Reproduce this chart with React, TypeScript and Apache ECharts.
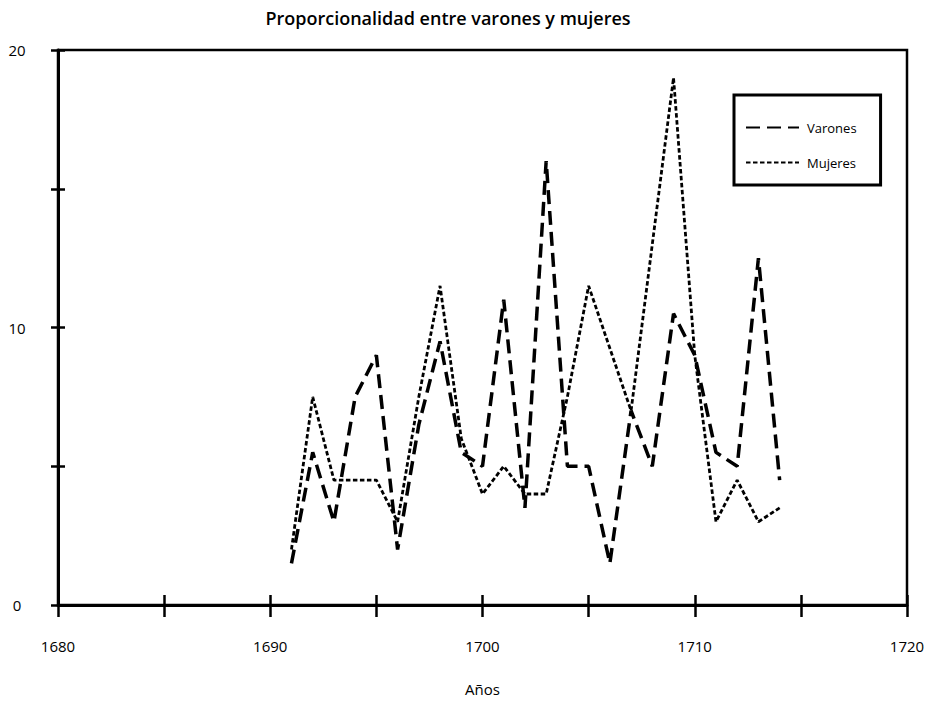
import React, { useEffect, useRef } from "react";
import * as echarts from "echarts";

const years = [1691, 1692, 1693, 1694, 1695, 1696, 1697, 1698, 1699, 1700, 1701, 1702, 1703, 1704, 1705, 1706, 1707, 1708, 1709, 1710, 1711, 1712, 1713, 1714];
const varones = [1.5, 5.5, 3, 7.5, 9, 2, 6.5, 9.5, 5.5, 5, 11, 3.5, 16, 5, 5, 1.5, 7, 5, 10.5, 9, 5.5, 5, 12.5, 4.5];
const mujeres = [2, 7.5, 4.5, 4.5, 4.5, 3, 7.5, 11.5, 6, 4, 5, 4, 4, 7.5, 11.5, 9.25, 7, 13, 19, 9, 3, 4.5, 3, 3.5];
const xLabels = ["1680", "1690", "1700", "1710", "1720"];
const yLabels = ["0", "10", "20"];

const FONT = "'Open Sans', 'Noto Sans', sans-serif";

export default function App() {
  const ref = useRef<HTMLDivElement>(null);
  useEffect(() => {
    if (!ref.current) return;
    const chart = echarts.init(ref.current, null, { renderer: "svg" });
    const grid = { left: 58, top: 50, width: 849, height: 555, show: true, borderColor: "#000", borderWidth: 2.5, backgroundColor: "transparent" };
    const xBase = { type: "value", min: 1680, max: 1720, interval: 5, gridIndex: 0, position: "bottom", splitLine: { show: false } };
    const yBase = { type: "value", min: 0, max: 20, interval: 5, gridIndex: 0, position: "left", splitLine: { show: false } };
    chart.setOption({
      animation: false,
      backgroundColor: "#fff",
      title: {
        text: "Proporcionalidad entre varones y mujeres",
        left: 448,
        top: 9,
        padding: 0,
        textAlign: "center",
        textStyle: { fontFamily: FONT, fontSize: 18, fontWeight: 600, color: "#000" },
      },
      grid,
      legend: {
        data: ["Varones", "Mujeres"],
        orient: "vertical",
        left: 734,
        top: 95,
        itemWidth: 53,
        itemHeight: 14,
        itemGap: 22,
        padding: [26, 24, 16, 11],
        borderColor: "#000",
        borderWidth: 3,
        backgroundColor: "#fff",
        selectedMode: false,
        itemStyle: { color: "rgba(0,0,0,0)", borderColor: "rgba(0,0,0,0)", borderWidth: 0, opacity: 0 },
        textStyle: { fontFamily: FONT, fontSize: 13, color: "#000", padding: [0, 0, 0, 3] },
      },
      xAxis: [
        {
          ...xBase,
          name: "Años",
          nameLocation: "middle",
          nameGap: 76,
          nameTextStyle: { fontFamily: FONT, fontSize: 15, color: "#000" },
          axisLine: { show: true, lineStyle: { color: "#000", width: 3 } },
          axisTick: { show: true, inside: false, length: 12, lineStyle: { color: "#000", width: 2.5 } },
          axisLabel: {
            margin: 33,
            fontFamily: FONT,
            fontSize: 15,
            color: "#000",
            formatter: (v: number) => (xLabels.includes(String(v)) ? String(v) : ""),
          },
        },
        {
          ...xBase,
          axisLine: { show: false },
          axisTick: { show: true, inside: true, length: 10, lineStyle: { color: "#000", width: 2.5 } },
          axisLabel: { show: false },
        },
      ],
      yAxis: [
        {
          ...yBase,
          axisLine: { show: true, lineStyle: { color: "#000", width: 3 } },
          axisTick: { show: true, inside: false, length: 7, lineStyle: { color: "#000", width: 2.5 } },
          axisLabel: {
            margin: 41,
            align: "center",
            fontFamily: FONT,
            fontSize: 15,
            color: "#000",
            formatter: (v: number) => (yLabels.includes(String(v)) ? String(v) : ""),
          },
        },
        {
          ...yBase,
          axisLine: { show: false },
          axisTick: { show: true, inside: true, length: 7, lineStyle: { color: "#000", width: 2.5 } },
          axisLabel: { show: false },
        },
      ],
      series: [
        {
          name: "Varones",
          type: "line",
          xAxisIndex: 0,
          yAxisIndex: 0,
          symbol: "circle",
          showSymbol: false,
          data: years.map((y, i) => [y, varones[i]]),
          lineStyle: { color: "#000", width: 3.5, type: [14, 7], cap: "butt" },
          itemStyle: { color: "#000" },
        },
        {
          name: "Mujeres",
          type: "line",
          xAxisIndex: 0,
          yAxisIndex: 0,
          symbol: "circle",
          showSymbol: false,
          data: years.map((y, i) => [y, mujeres[i]]),
          lineStyle: { color: "#000", width: 2.8, type: [4.5, 2.5], cap: "butt" },
          itemStyle: { color: "#000" },
        },
      ],
    });
    return () => chart.dispose();
  }, []);
  return <div ref={ref} style={{ position: "absolute", left: 0, top: 0, width: 934, height: 705 }} />;
}
